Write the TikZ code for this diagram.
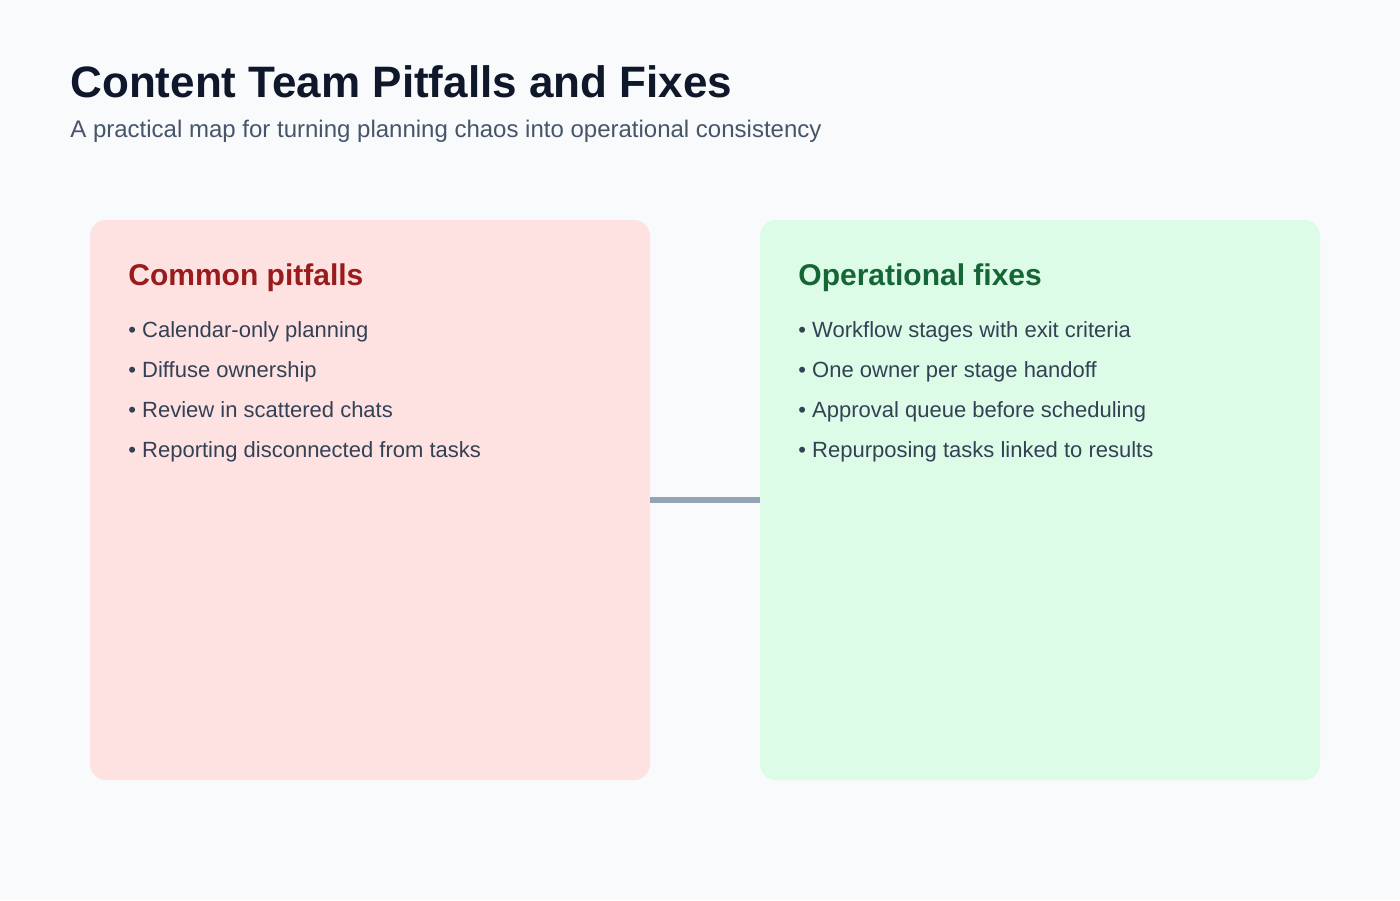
\documentclass[tikz,border=0pt]{standalone}
\usepackage{fontspec}
\setmainfont{Liberation Sans}
\usetikzlibrary{positioning}
\definecolor{BgColor}{HTML}{F8FAFC}
\definecolor{TitleColor}{HTML}{0F172A}
\definecolor{SubColor}{HTML}{475569}
\definecolor{TextColor}{HTML}{334155}
\definecolor{PitFill}{HTML}{FEE2E2}
\definecolor{PitHead}{HTML}{991B1B}
\definecolor{FixFill}{HTML}{DCFCE7}
\definecolor{FixHead}{HTML}{166534}
\definecolor{LinkColor}{HTML}{94A3B8}
\tikzset{
  panel/.style={rectangle, rounded corners=8pt, minimum width=280pt, minimum height=280pt, inner sep=0pt},
  head/.style={anchor=base west, font=\fontsize{15}{18}\selectfont\bfseries},
  item/.style={anchor=base west, text=TextColor, font=\fontsize{11}{13}\selectfont},
  link/.style={LinkColor, line width=3pt}
}
\begin{document}
\begin{tikzpicture}[x=0.5pt, y=-0.5pt]
  \fill[BgColor] (0,0) rectangle (1400,900);
  \useasboundingbox (0,0) rectangle (1400,900);

  % title
  \node[anchor=base west, inner sep=0, text=TitleColor, font=\fontsize{22}{26}\selectfont\bfseries] (title) at (70,97) {Content Team Pitfalls and Fixes};
  \node[anchor=base west, inner sep=0, text=SubColor, font=\fontsize{12}{14}\selectfont] (subtitle) at (70,137) {A practical map for turning planning chaos into operational consistency};

  % panels
  \node[panel, fill=PitFill] (pit) at (370,500) {};
  \node[panel, fill=FixFill] (fix) at (1040,500) {};
  \draw[link] (pit.east) -- (fix.west);

  \node[head, inner sep=0, text=PitHead] (pithead) at (128,285) {Common pitfalls};
  \node[head, inner sep=0, text=FixHead] (fixhead) at (798,285) {Operational fixes};

  \foreach \y/\t [count=\i] in {337/Calendar-only planning, 377/Diffuse ownership, 417/Review in scattered chats, 457/Reporting disconnected from tasks}
    \node[item, inner sep=0] (pit\i) at (128,\y) {• \t};
  \foreach \y/\t [count=\i] in {337/Workflow stages with exit criteria, 377/One owner per stage handoff, 417/Approval queue before scheduling, 457/Repurposing tasks linked to results}
    \node[item, inner sep=0] (fix\i) at (798,\y) {• \t};
\end{tikzpicture}
\end{document}
